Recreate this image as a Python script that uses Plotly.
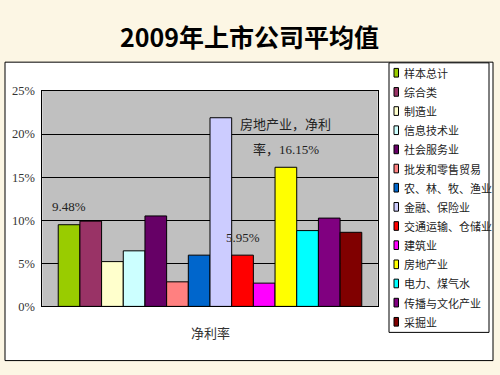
import plotly.graph_objects as go

W, H = 500, 375

title_text = "2009年上市公司平均值"
x_category = "净利率"
categories = ["样本总计", "综合类", "制造业", "信息技术业", "社会服务业", "批发和零售贸易",
              "农、林、牧、渔业", "金融、保险业", "交通运输、仓储业", "建筑业", "房地产业",
              "电力、煤气水", "传播与文化产业", "采掘业"]
values = [9.48, 9.90, 5.20, 6.45, 10.50, 2.85, 5.95, 21.90, 5.95, 2.70, 16.15, 8.80, 10.25, 8.60]
colors = ["#99CC00", "#993366", "#FFFFCC", "#CCFFFF", "#660066", "#FF8080", "#0066CC",
          "#CCCCFF", "#FF0000", "#FF00FF", "#FFFF00", "#00FFFF", "#800080", "#800000"]
# data labels shown in the chart (index -> lines)
data_labels = {0: ["9.48%"], 8: ["5.95%"], 10: ["房地产业，净利", "率，16.15%"]}
y_ticks = [0, 5, 10, 15, 20, 25]
y_tick_labels = ["0%", "5%", "10%", "15%", "20%", "25%"]

def px_x(p):
    return p / W

def px_y(p):
    return 1 - p / H

BARGAP = 0.095
CJK = "Noto Sans CJK SC"
NUMF = "Liberation Serif, Noto Sans CJK SC, serif"

fig = go.Figure()
for cat, val, col in zip(categories, values, colors):
    fig.add_trace(go.Bar(
        x=[x_category], y=[val], name=cat,
        marker=dict(color=col, line=dict(color="black", width=1)),
        showlegend=False, hoverinfo="name+y",
    ))

shapes = []
# white chart box
shapes.append(dict(type="rect", xref="paper", yref="paper",
                   x0=px_x(5), x1=px_x(493), y0=px_y(367.3), y1=px_y(57.3),
                   fillcolor="white", line=dict(color="black", width=1), layer="below"))
# gray plot area
shapes.append(dict(type="rect", xref="x domain", yref="y domain", x0=0, x1=1, y0=0, y1=1,
                   fillcolor="#C0C0C0", line=dict(width=0), layer="below"))
# legend box
shapes.append(dict(type="rect", xref="paper", yref="paper",
                   x0=px_x(389), x1=px_x(489), y0=px_y(338), y1=px_y(58),
                   fillcolor="white", line=dict(color="black", width=1), layer="below"))

annotations = []
# legend entries
for i, (cat, col) in enumerate(zip(categories, colors)):
    yc = 68.3 + 19.9 * i
    shapes.append(dict(type="rect", xref="paper", yref="paper",
                       x0=px_x(394), x1=px_x(398.5), y0=px_y(yc + 4.5), y1=px_y(yc - 4.5),
                       fillcolor=col, line=dict(color="black", width=1)))
    annotations.append(dict(text=cat, xref="paper", yref="paper", x=px_x(402), y=px_y(yc),
                            xanchor="left", yanchor="middle", showarrow=False,
                            font=dict(family=CJK, size=11, color="#222222")))

# data labels placed on bar centers (group mode geometry)
n = len(categories)
w = (1 - BARGAP) / n
for idx, lines in data_labels.items():
    xc = -0.5 + BARGAP / 2 + (idx + 0.5) * w
    for k, line in enumerate(lines):
        annotations.append(dict(text=line, x=xc, y=values[idx], xref="x", yref="y",
                                yshift=18 + (len(lines) - 1 - k) * 25,
                                xanchor="center", yanchor="middle", showarrow=False,
                                font=dict(family=NUMF, size=13, color="#222222")))

# title
annotations.append(dict(text="<b>" + title_text + "</b>", xref="paper", yref="paper",
                        x=px_x(249), y=px_y(30), xanchor="center", yanchor="middle",
                        showarrow=False, font=dict(family=CJK, size=25, color="black")))
# x axis title
annotations.append(dict(text=x_category, xref="x domain", yref="paper", x=0.5, y=px_y(338),
                        xanchor="center", yanchor="middle", showarrow=False,
                        font=dict(family=CJK, size=13, color="#333333")))

fig.update_layout(
    width=W, height=H,
    margin=dict(l=0, r=0, t=0, b=0),
    paper_bgcolor="#FCF6E4",
    plot_bgcolor="rgba(0,0,0,0)",
    barmode="group", bargap=BARGAP, bargroupgap=0,
    showlegend=False,
    shapes=shapes, annotations=annotations,
    xaxis=dict(domain=[px_x(42.3), px_x(377.7)], showticklabels=False, ticks="",
               showline=True, linecolor="black", linewidth=1, mirror=True,
               showgrid=False, zeroline=False),
    yaxis=dict(domain=[px_y(311), px_y(87.3)], range=[0, 25],
               tickmode="array", tickvals=y_ticks, ticktext=y_tick_labels,
               showline=True, linecolor="black", linewidth=1, mirror=True,
               showgrid=True, gridcolor="black", gridwidth=1, zeroline=False,
               ticks="outside", ticklen=4, tickcolor="rgba(0,0,0,0)",
               tickfont=dict(family=NUMF, size=12.5, color="#333333")),
)

fig.write_html("out.html", config={"displayModeBar": False},
               post_script="document.body.style.margin='0';document.body.style.overflow='hidden';")
